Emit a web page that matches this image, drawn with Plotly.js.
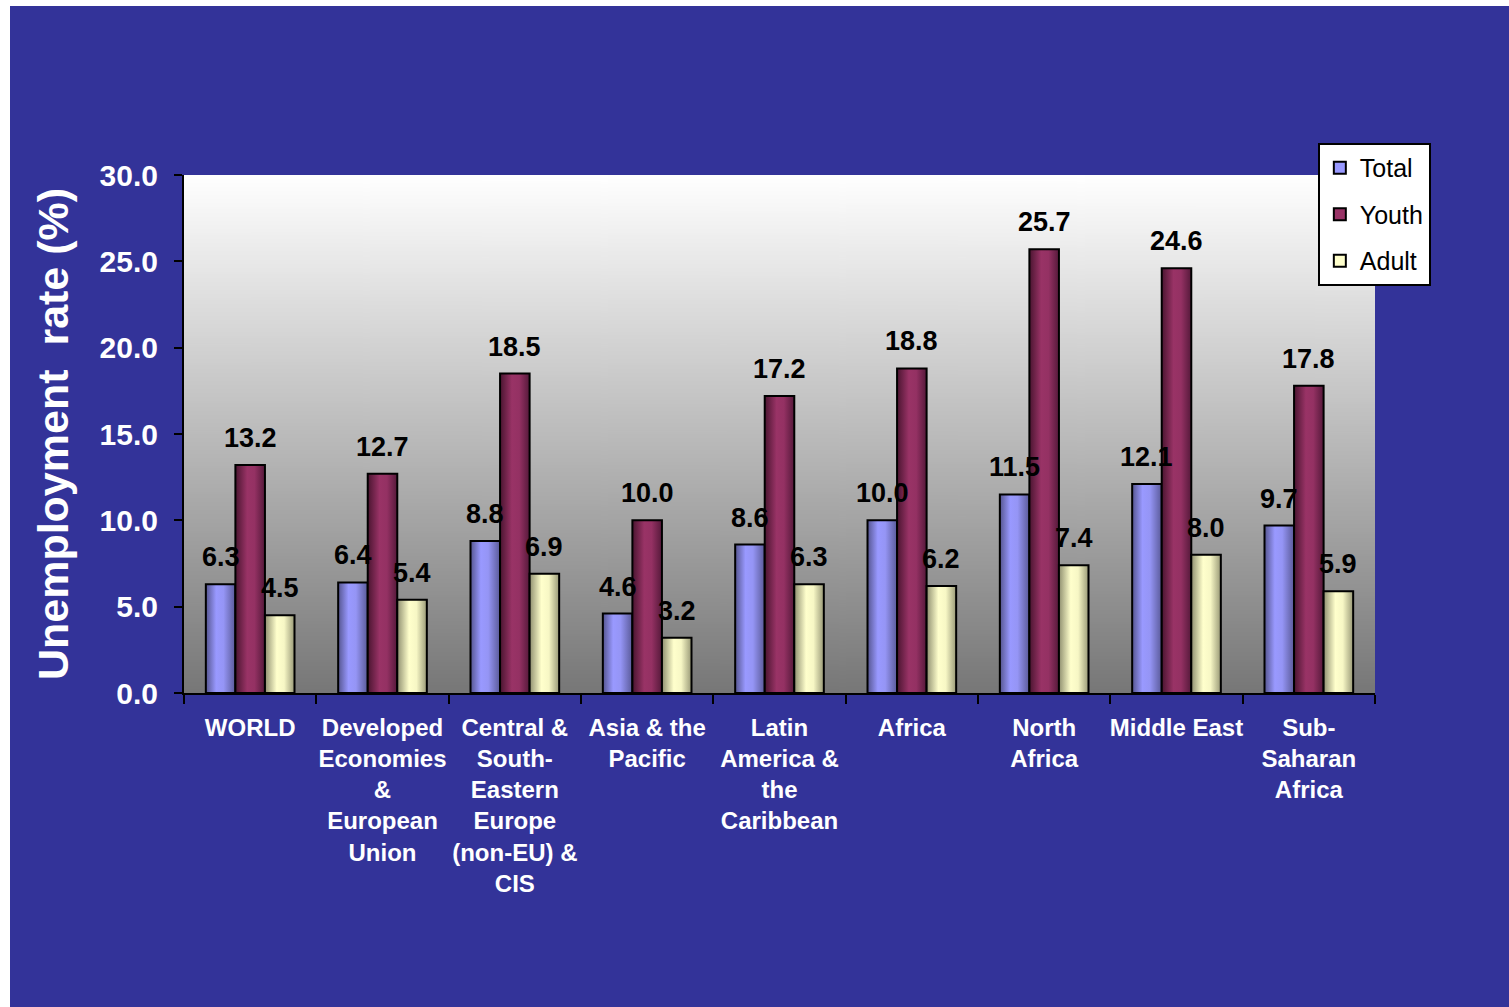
<!DOCTYPE html>
<html>
<head>
<meta charset="utf-8">
<script src="https://cdn.plot.ly/plotly-3.0.1.min.js"></script>
<style>
html,body{margin:0;padding:0;background:#ffffff;}
#chart{position:absolute;left:10px;top:6px;width:1499px;height:1001px;}
</style>
</head>
<body>
<div id="chart"></div>
<script>
var categories = [
  "WORLD",
  "Developed<br>Economies<br>&<br>European<br>Union",
  "Central &<br>South-<br>Eastern<br>Europe<br>(non-EU) &<br>CIS",
  "Asia & the<br>Pacific",
  "Latin<br>America &<br>the<br>Caribbean",
  "Africa",
  "North<br>Africa",
  "Middle East",
  "Sub-<br>Saharan<br>Africa"
];
var totalValues = [6.3, 6.4, 8.8, 4.6, 8.6, 10.0, 11.5, 12.1, 9.7];
var youthValues = [13.2, 12.7, 18.5, 10.0, 17.2, 18.8, 25.7, 24.6, 17.8];
var adultValues = [4.5, 5.4, 6.9, 3.2, 6.3, 6.2, 7.4, 8.0, 5.9];
var seriesNames = ["Total", "Youth", "Adult"];
var yTickVals = [0, 5, 10, 15, 20, 25, 30];

var FONT = "Liberation Sans, Arial, sans-serif";
var colors = ["#9999FF", "#993366", "#FFFFCC"];
var seriesValues = [totalValues, youthValues, adultValues];

var W = 1499, H = 1001;
var margin = {l: 174, r: 134, t: 169, b: 314};
var bargap = 0.33;

// gradient background for plot area
var cv = document.createElement("canvas");
cv.width = 10; cv.height = 512;
var ctx = cv.getContext("2d");
var g = ctx.createLinearGradient(0, 0, 0, 512);
g.addColorStop(0, "#ffffff");
g.addColorStop(1, "#777777");
ctx.fillStyle = g; ctx.fillRect(0, 0, 10, 512);
var bgImg = cv.toDataURL("image/png");

var traces = seriesNames.map(function (name, i) {
  return {
    type: "bar",
    name: name,
    x: categories,
    y: seriesValues[i],
    legendgroup: "g" + i,
    marker: {color: colors[i], line: {color: "#000000", width: 2}},
    hoverinfo: "none"
  };
});

var plotW = W - margin.l - margin.r;
var barW = plotW / categories.length * (1 - bargap) / 3;
var annotations = [];
seriesValues.forEach(function (vals, i) {
  vals.forEach(function (v, j) {
    annotations.push({
      x: categories[j], y: v, xref: "x", yref: "y",
      text: v.toFixed(1), showarrow: false,
      xshift: (i - 1) * barW, yshift: 10, yanchor: "bottom",
      font: {family: FONT, size: 27, color: "#000000", weight: "bold"}
    });
  });
});

var layout = {
  width: W, height: H,
  paper_bgcolor: "#333399",
  plot_bgcolor: "#ffffff",
  margin: margin,
  barmode: "group",
  bargap: bargap,
  bargroupgap: 0,
  showlegend: true,
  legend: {
    x: 0.952, y: 1.0618, xanchor: "left", yanchor: "top",
    bgcolor: "#ffffff", bordercolor: "#000000", borderwidth: 2,
    font: {family: FONT, size: 25, color: "#000000"},
    traceorder: "grouped", tracegroupgap: 11, itemwidth: 20
  },
  xaxis: {
    type: "category",
    showline: true, linecolor: "#000000", linewidth: 2,
    ticks: "outside", tickson: "boundaries", ticklen: 9, tickwidth: 2, tickcolor: "#000000",
    tickfont: {family: FONT, size: 24, color: "#ffffff", weight: "bold"},
    ticklabelstandoff: 12,
    tickangle: 0,
    showgrid: false, zeroline: false, automargin: false
  },
  yaxis: {
    range: [0, 30], tickvals: yTickVals, tickformat: ".1f",
    showline: true, linecolor: "#000000", linewidth: 2,
    ticks: "outside", ticklen: 8, tickwidth: 2, tickcolor: "#000000",
    tickfont: {family: FONT, size: 30, color: "#ffffff", weight: "bold"},
    ticklabelstandoff: 10,
    showgrid: false, zeroline: false, automargin: false,
    title: {text: "Unemployment  rate (%)", standoff: 18,
      font: {family: FONT, size: 43, color: "#ffffff", weight: "bold"}}
  },
  images: [{
    source: bgImg, xref: "paper", yref: "paper", x: 0, y: 1,
    sizex: 1, sizey: 1, sizing: "stretch", layer: "below"
  }],
  annotations: annotations
};

var gradStops = [
  [["0", "#55558f"], ["0.35", "#9999ff"], ["0.6", "#9595f5"], ["1", "#5a5a99"]],
  [["0", "#4a1530"], ["0.4", "#993366"], ["0.65", "#943163"], ["1", "#55193a"]],
  [["0", "#8f8f70"], ["0.4", "#ffffcc"], ["0.65", "#f7f7c5"], ["1", "#999977"]]
];

Plotly.newPlot("chart", traces, layout, {staticPlot: true, displayModeBar: false}).then(function (gd) {
  var NS = "http://www.w3.org/2000/svg";
  var svg = gd.querySelector(".main-svg");
  var defs = svg.querySelector("defs") || svg.insertBefore(document.createElementNS(NS, "defs"), svg.firstChild);
  gradStops.forEach(function (stops, i) {
    var lg = document.createElementNS(NS, "linearGradient");
    lg.setAttribute("id", "barGrad" + i);
    lg.setAttribute("x1", "0"); lg.setAttribute("y1", "0");
    lg.setAttribute("x2", "1"); lg.setAttribute("y2", "0");
    stops.forEach(function (s) {
      var st = document.createElementNS(NS, "stop");
      st.setAttribute("offset", s[0]);
      st.setAttribute("stop-color", s[1]);
      lg.appendChild(st);
    });
    defs.appendChild(lg);
  });
  var tr = gd.querySelectorAll(".barlayer .trace");
  tr.forEach(function (t, i) {
    t.querySelectorAll(".point path").forEach(function (p) {
      p.style.fill = "url(#barGrad" + i + ")";
    });
  });
});
</script>
</body>
</html>
